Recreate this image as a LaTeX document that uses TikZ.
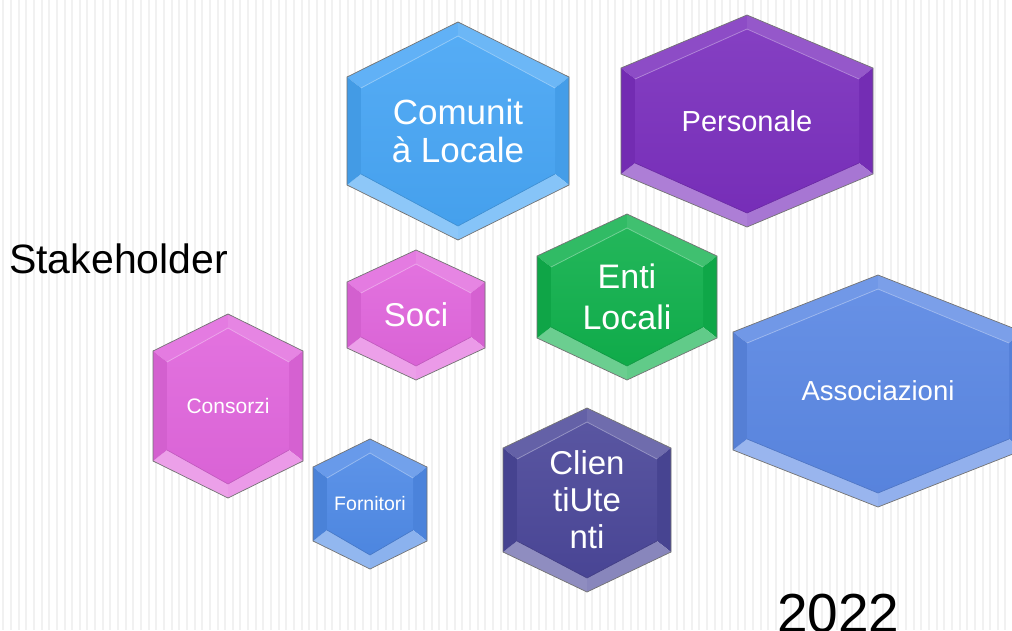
\documentclass[tikz,border=0pt]{standalone}
\usepackage{fontspec}
\setmainfont{Liberation Sans}
\definecolor{comunita}{HTML}{47A5F4}
\definecolor{personale}{HTML}{7A2FBD}
\definecolor{associazioni}{HTML}{5A87E3}
\definecolor{enti}{HTML}{10B04C}
\definecolor{soci}{HTML}{E066DC}
\definecolor{fornitori}{HTML}{4F8AE6}
\definecolor{clienti}{HTML}{4B4799}
\definecolor{stripe}{HTML}{F1F1F1}
\tikzset{
    hex-edge/.style = {draw=black!55, line width=0.7pt, line join=miter},
    hex-label/.style = {text=white, align=center, inner sep=0pt},
    bg-stripe/.style = {fill=stripe},
    plain-text/.style = {text=black, inner sep=0pt, anchor=base west},
}
% #1 name, #2 cx, #3 cy, #4 half width, #5 half height, #6 half side, #7 colour, #8 font, #9 text
\newcommand{\hexcell}[9]{%
  \coordinate (#1-T)  at (#2,#3-#5);
  \coordinate (#1-UR) at (#2+#4,#3-#6);
  \coordinate (#1-LR) at (#2+#4,#3+#6);
  \coordinate (#1-B)  at (#2,#3+#5);
  \coordinate (#1-LL) at (#2-#4,#3+#6);
  \coordinate (#1-UL) at (#2-#4,#3-#6);
  \coordinate (#1-t)  at (#2,#3-#5+14);
  \coordinate (#1-ur) at (#2+#4-14,#3-#6+11);
  \coordinate (#1-lr) at (#2+#4-14,#3+#6-11);
  \coordinate (#1-b)  at (#2,#3+#5-14);
  \coordinate (#1-ll) at (#2-#4+14,#3+#6-11);
  \coordinate (#1-ul) at (#2-#4+14,#3-#6+11);
  \fill[#7!86!white] (#1-UL) -- (#1-T) -- (#1-t) -- (#1-ul) -- cycle;
  \fill[#7!80!white] (#1-T) -- (#1-UR) -- (#1-ur) -- (#1-t) -- cycle;
  \fill[#7!95!black] (#1-UR) -- (#1-LR) -- (#1-lr) -- (#1-ur) -- cycle;
  \fill[#7!66!white] (#1-LR) -- (#1-B) -- (#1-b) -- (#1-lr) -- cycle;
  \fill[#7!62!white] (#1-B) -- (#1-LL) -- (#1-ll) -- (#1-b) -- cycle;
  \fill[#7!94!black] (#1-LL) -- (#1-UL) -- (#1-ul) -- (#1-ll) -- cycle;
  \shade[top color=#7!92!white, bottom color=#7!97!black]
    (#1-t) -- (#1-ur) -- (#1-lr) -- (#1-b) -- (#1-ll) -- (#1-ul) -- cycle;
  \draw[#7!60!white, line width=0.8pt] (#1-ul) -- (#1-t) -- (#1-ur);
  \draw[#7!85!black, line width=0.6pt] (#1-ll) -- (#1-b) -- (#1-lr);
  \draw[hex-edge] (#1-T) -- (#1-UR) -- (#1-LR) -- (#1-B) -- (#1-LL) -- (#1-UL) -- cycle;
  \node[hex-label, font={#8}] (#1) at (#2,#3) {#9};
}

\begin{document}
\begin{tikzpicture}[x=1pt, y=-1pt]
\useasboundingbox (0,0) rectangle (1012,630);
\clip (0,0) rectangle (1012,630);
\fill[white] (0,0) rectangle (1012,630);
\foreach \i in {0,...,132}
    \fill[bg-stripe] (2.3+7.65*\i,0) rectangle ++(2,630);

\hexcell{comunita}{458}{131}{111}{109}{54}{comunita}{\fontsize{35}{38}\selectfont}{Comunit\\à Locale}
\hexcell{personale}{747}{121}{126}{106}{53}{personale}{\fontsize{29}{33}\selectfont}{Personale}
\hexcell{associazioni}{878}{391}{145}{116}{59}{associazioni}{\fontsize{27.5}{31}\selectfont}{Associazioni}
\hexcell{enti}{627}{297}{90}{83}{41}{enti}{\fontsize{34}{41}\selectfont}{Enti\\Locali}
\hexcell{soci}{416}{315}{69}{65}{33}{soci}{\fontsize{33}{37}\selectfont}{Soci}
\hexcell{consorzi}{228}{406}{75}{92}{55}{soci}{\fontsize{21}{24}\selectfont}{Consorzi}
\hexcell{fornitori}{370}{504}{57}{65}{37}{fornitori}{\fontsize{19.5}{22}\selectfont}{Fornitori}
\hexcell{clienti}{587}{500}{84}{92}{52}{clienti}{\fontsize{33}{37}\selectfont}{Clien\\tiUte\\nti}

\node[plain-text, font=\fontsize{41}{46}\selectfont] (title) at (9,273) {Stakeholder};
\node[plain-text, font=\fontsize{55}{60}\selectfont] (year) at (777,632) {2022};
\end{tikzpicture}
\end{document}
